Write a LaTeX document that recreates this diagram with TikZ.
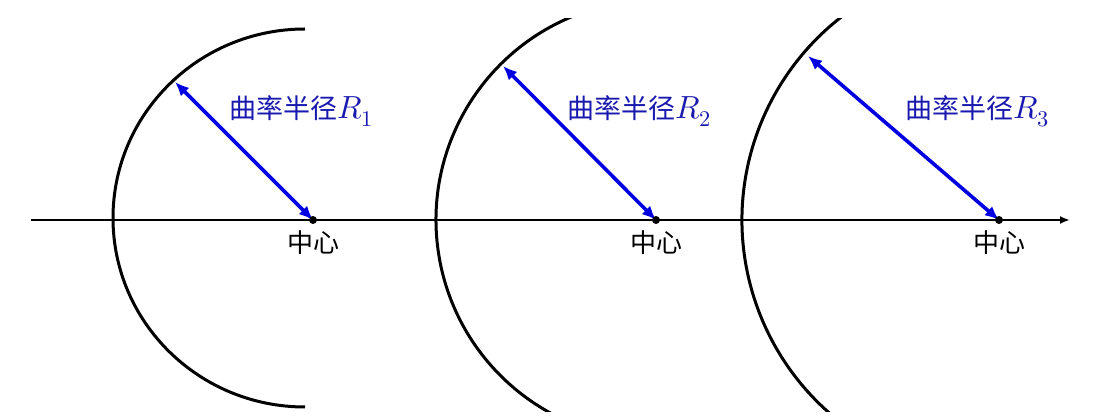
\documentclass[tikz,border=0pt]{standalone}
\usepackage{fontspec}
\usepackage{unicode-math}
\newfontfamily\cjkfont{Noto Sans CJK SC}
\usetikzlibrary{arrows.meta}
\definecolor{arrowblue}{RGB}{0,0,225}
\definecolor{textblue}{RGB}{25,25,175}
\newcommand{\bigR}[1]{{\fontsize{32}{36}\selectfont$R_{#1}$}}
\tikzset{
  axisline/.style={line width=2pt,-{Latex[length=10pt,width=8pt]}},
  mirror/.style={line width=3pt},
  radius arrow/.style={arrowblue,line width=3.6pt,{Latex[length=14pt,width=12pt]}-{Latex[length=14pt,width=12pt]}},
  radlabel/.style={anchor=west,text=textblue,font=\fontsize{27}{32}\selectfont\cjkfont,inner sep=0pt},
  centerlabel/.style={anchor=north,font=\fontsize{26}{30}\selectfont\cjkfont,inner sep=0pt},
  centerdot/.style={fill=black,circle,inner sep=0pt,minimum size=8pt}
}
\begin{document}
\begin{tikzpicture}[x=1pt,y=1pt]
\useasboundingbox (0,0) rectangle (1100,420);
% axis
\coordinate (axL) at (31,200);
\coordinate (axR) at (1070,200);
\draw[axisline] (axL) -- (axR);
% centres
\coordinate (c1) at (313,200);
\coordinate (c2) at (656,200);
\coordinate (c3) at (999,200);
% mirrors
\begin{scope}
\clip (0,8) rectangle (1100,401);
\draw[mirror] (305,391) arc[start angle=90,end angle=270,x radius=192,y radius=189];
\draw[mirror] (c2) ++(100:220) arc[start angle=100,end angle=260,radius=220];
\draw[mirror] (c3) ++(110:257) arc[start angle=110,end angle=250,radius=257];
\end{scope}
% arrow tips on mirrors
\coordinate (t1) at (175,338);
\coordinate (t2) at (503,354);
\coordinate (t3) at (808,364);
\draw[radius arrow] (t1) -- (c1);
\draw[radius arrow] (t2) -- (c2);
\draw[radius arrow] (t3) -- (c3);
% dots
\node[centerdot] (d1) at (c1) {};
\node[centerdot] (d2) at (c2) {};
\node[centerdot] (d3) at (c3) {};
% labels
\node[radlabel] (l1) at (229,309) {曲率半径\bigR{1}};
\node[radlabel] (l2) at (567,309) {曲率半径\bigR{2}};
\node[radlabel] (l3) at (905,309) {曲率半径\bigR{3}};
\node[centerlabel] (m1) at ([yshift=-10pt]c1) {中心};
\node[centerlabel] (m2) at ([yshift=-10pt]c2) {中心};
\node[centerlabel] (m3) at ([yshift=-10pt]c3) {中心};
\end{tikzpicture}
\end{document}
